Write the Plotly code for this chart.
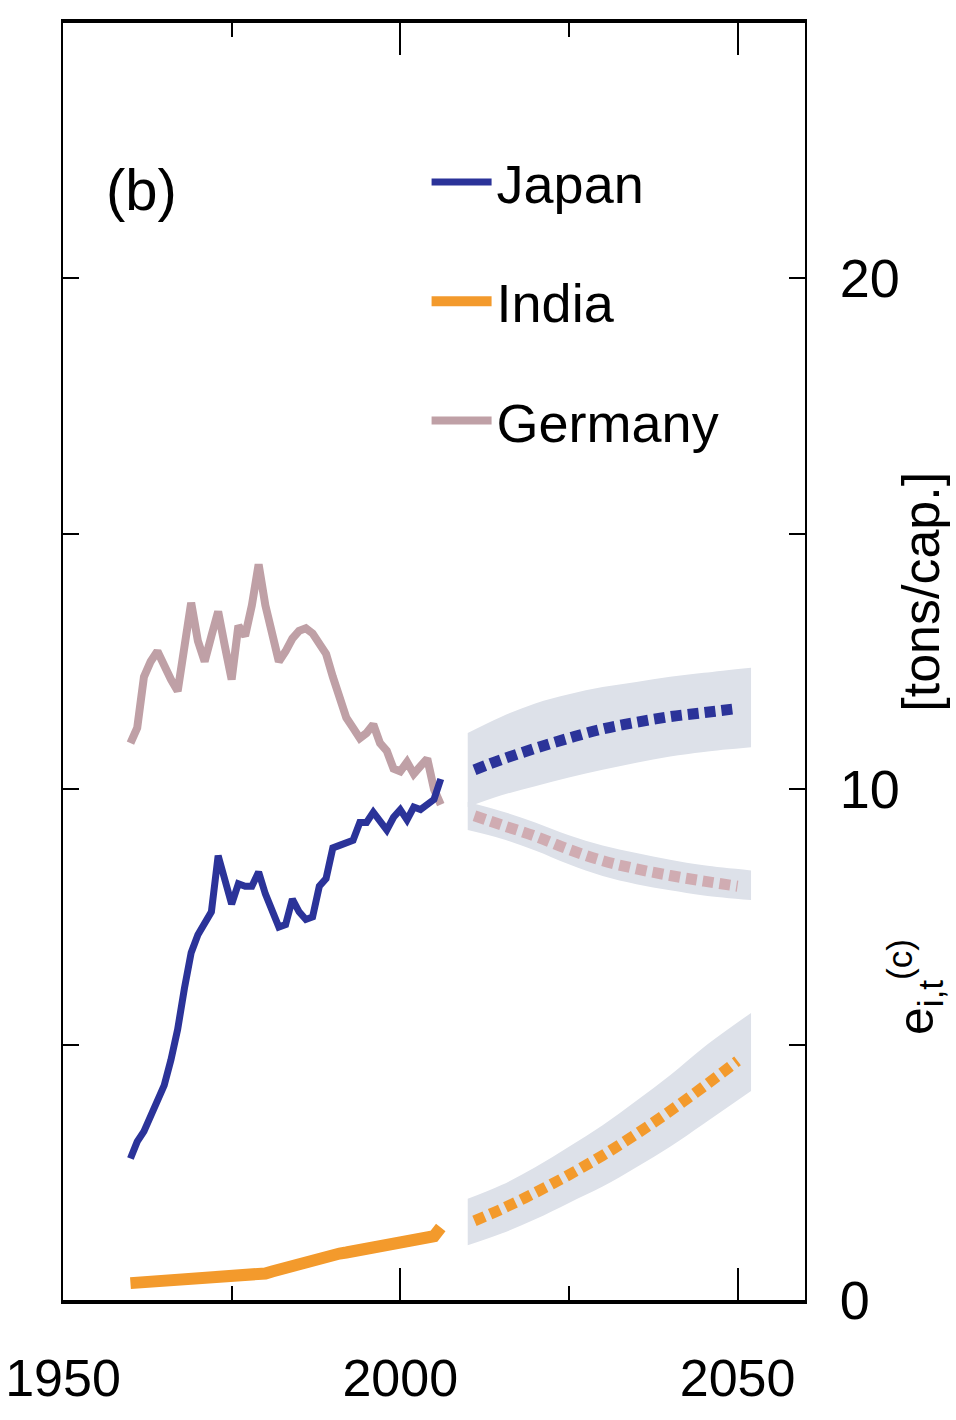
import plotly.graph_objects as go

# ---------------- data ----------------
hist_years = list(range(1960, 2007))
japan_hist = [2.77, 3.1, 3.3, 3.6, 3.9, 4.2, 4.7, 5.3, 6.1, 6.8,
              7.15, 7.35, 7.6, 8.7, 8.2, 7.75, 8.15, 8.1, 8.1, 8.38,
              7.95, 7.6, 7.3, 7.35, 7.85, 7.6, 7.45, 7.5, 8.1, 8.25,
              8.85, 8.9, 8.95, 9.0, 9.35, 9.35, 9.55, 9.4, 9.2, 9.45,
              9.6, 9.4, 9.65, 9.6, 9.7, 9.8, 10.2]
germany_hist = [10.9, 11.2, 12.2, 12.5, 12.7, 12.4, 12.15, 11.92, 12.7, 13.65,
                12.9, 12.5, 13.0, 13.48, 12.8, 12.15, 13.2, 13.0, 13.6, 14.4,
                13.6, 13.0, 12.5, 12.7, 12.95, 13.1, 13.15, 13.05, 12.85, 12.65,
                12.2, 11.8, 11.4, 11.2, 11.0, 11.1, 11.27, 10.9, 10.75, 10.4,
                10.35, 10.53, 10.3, 10.45, 10.6, 10.0, 9.7]
india_hist = [0.33, 0.34, 0.36, 0.36, 0.37, 0.38, 0.38, 0.39, 0.40, 0.40,
              0.41, 0.41, 0.42, 0.43, 0.43, 0.45, 0.46, 0.47, 0.48, 0.50,
              0.52, 0.56, 0.60, 0.64, 0.67, 0.71, 0.74, 0.77, 0.81, 0.84,
              0.88, 0.91, 0.93, 0.95, 0.98, 1.01, 1.03, 1.05, 1.06, 1.09,
              1.11, 1.12, 1.14, 1.16, 1.19, 1.25, 1.42]

proj_years = [2011, 2015, 2020, 2025, 2030, 2035, 2040, 2045, 2050]
japan_proj = [10.38, 10.58, 10.8, 11.0, 11.18, 11.31, 11.42, 11.5, 11.58]
germany_proj = [9.48, 9.3, 9.08, 8.82, 8.6, 8.44, 8.31, 8.2, 8.1]
india_proj = [1.55, 1.78, 2.1, 2.45, 2.83, 3.25, 3.7, 4.18, 4.68]

band_years = [2010, 2015, 2020, 2025, 2030, 2035, 2040, 2045, 2052]
japan_up = [11.1, 11.42, 11.68, 11.86, 12.0, 12.1, 12.2, 12.28, 12.38]
japan_lo = [9.65, 9.88, 10.06, 10.23, 10.38, 10.52, 10.64, 10.73, 10.82]
germany_up = [9.75, 9.57, 9.35, 9.1, 8.9, 8.75, 8.62, 8.51, 8.41]
germany_lo = [9.2, 9.03, 8.8, 8.53, 8.3, 8.14, 8.02, 7.92, 7.83]
india_up = [1.98, 2.25, 2.6, 3.0, 3.42, 3.9, 4.4, 4.95, 5.62]
india_lo = [1.07, 1.3, 1.58, 1.9, 2.22, 2.6, 3.0, 3.45, 4.09]

x_tick_labels = ["1950", "2000", "2050"]
x_tick_vals = [1950, 2000, 2050]
y_tick_labels = ["0", "10", "20"]
y_tick_vals = [0, 10, 20]

# ---------------- style ----------------
FONT = "Liberation Sans, Arial, Helvetica, sans-serif"
C_JAPAN = "#2b3399"
C_INDIA = "#f39a2c"
C_GERMANY = "#bfa0a6"
C_GERMANY_PROJ = "#d0acb2"
C_BAND = "#dde1e9"

fig = go.Figure()

for up, lo in [(japan_up, japan_lo), (germany_up, germany_lo), (india_up, india_lo)]:
    fig.add_trace(go.Scatter(
        x=band_years, y=lo, mode="lines",
        line=dict(width=0, color=C_BAND, shape="spline"),
        showlegend=False, hoverinfo="skip"))
    fig.add_trace(go.Scatter(
        x=band_years, y=up, mode="lines", fill="tonexty", fillcolor=C_BAND,
        line=dict(width=0, color=C_BAND, shape="spline"),
        showlegend=False, hoverinfo="skip"))

dash = "11px,6px"
fig.add_trace(go.Scatter(x=proj_years, y=japan_proj, mode="lines",
                         line=dict(color=C_JAPAN, width=11, dash=dash, shape="spline"),
                         showlegend=False))
fig.add_trace(go.Scatter(x=proj_years, y=germany_proj, mode="lines",
                         line=dict(color=C_GERMANY_PROJ, width=11, dash=dash, shape="spline"),
                         showlegend=False))
fig.add_trace(go.Scatter(x=proj_years, y=india_proj, mode="lines",
                         line=dict(color=C_INDIA, width=11, dash=dash, shape="spline"),
                         showlegend=False))

fig.add_trace(go.Scatter(x=hist_years, y=germany_hist, mode="lines", name="Germany",
                         line=dict(color=C_GERMANY, width=8), legendrank=3, legendgroup="g"))
fig.add_trace(go.Scatter(x=hist_years, y=india_hist, mode="lines", name="India",
                         line=dict(color=C_INDIA, width=12), legendrank=2, legendgroup="i"))
fig.add_trace(go.Scatter(x=hist_years, y=japan_hist, mode="lines", name="Japan",
                         line=dict(color=C_JAPAN, width=7), legendrank=1, legendgroup="j"))

fig.add_annotation(text="(b)", x=0.055, y=0.87, xref="paper", yref="paper",
                   xanchor="left", yanchor="middle", showarrow=False,
                   font=dict(family=FONT, size=58, color="black"))
fig.add_annotation(text="e<sub>i,t</sub><sup>(c)</sup>",
                   x=1.148, y=0.245, xref="paper", yref="paper", textangle=-90,
                   xanchor="center", yanchor="middle", showarrow=False,
                   font=dict(family=FONT, size=50, color="black"))
fig.add_annotation(text="[tons/cap.]",
                   x=1.157, y=0.555, xref="paper", yref="paper", textangle=-90,
                   xanchor="center", yanchor="middle", showarrow=False,
                   font=dict(family=FONT, size=52, color="black"))

fig.update_layout(
    width=956, height=1420,
    margin=dict(l=63, r=151, t=23, b=120, autoexpand=False),
    paper_bgcolor="white", plot_bgcolor="white",
    font=dict(family=FONT, color="black"),
    legend=dict(x=0.49, y=0.908, xanchor="left", yanchor="top",
                font=dict(family=FONT, size=54, color="black"),
                bgcolor="rgba(0,0,0,0)", tracegroupgap=46,
                itemwidth=60),
    xaxis=dict(range=[1950, 2060], tickvals=x_tick_vals, ticktext=x_tick_labels,
               ticks="inside", ticklen=32, tickwidth=2, tickcolor="black",
               showline=True, linewidth=4, linecolor="black", mirror="allticks",
               minor=dict(tick0=1950, dtick=25, ticks="inside", ticklen=14,
                          tickwidth=2, tickcolor="black"),
               showgrid=False, zeroline=False, automargin=False,
               tickfont=dict(family=FONT, size=52, color="black"),
               ticklabelstandoff=30, ticklabeloverflow="allow"),
    yaxis=dict(range=[0, 25], side="right", tickvals=y_tick_vals, ticktext=y_tick_labels,
               ticks="inside", ticklen=16, tickwidth=2, tickcolor="black",
               showline=True, linewidth=2, linecolor="black", mirror="allticks",
               minor=dict(tick0=0, dtick=5, ticks="inside", ticklen=16,
                          tickwidth=2, tickcolor="black"),
               showgrid=False, zeroline=False, automargin=False,
               tickfont=dict(family=FONT, size=54, color="black"),
               ticklabelstandoff=22, ticklabeloverflow="allow"),
)

fig.write_html("out.html")
